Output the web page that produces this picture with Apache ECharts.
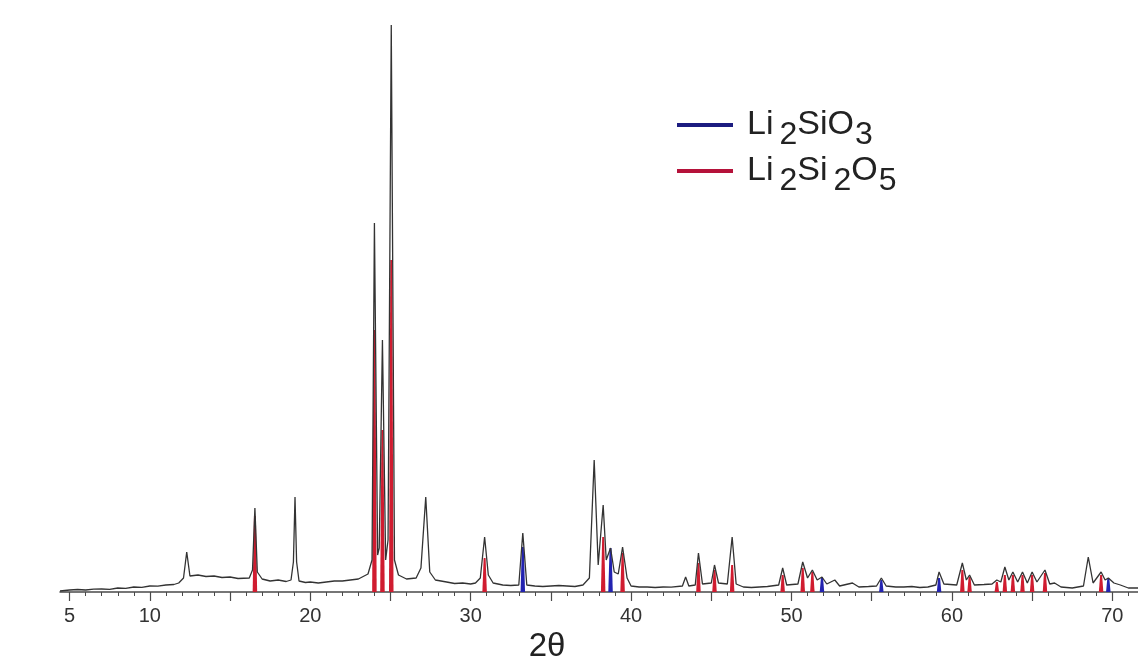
<!DOCTYPE html>
<html>
<head>
<meta charset="utf-8">
<script src="https://cdn.jsdelivr.net/npm/echarts@6/dist/echarts.min.js"></script>
<style>
html,body{margin:0;padding:0;background:#fff;}
#chart{width:1138px;height:664px;}
</style>
</head>
<body>
<div id="chart"></div>
<script>
// Measured XRD trace: [2theta, intensity (a.u.)]
const trace = [
  [4.4,10],[5.0,20],[5.5,25],[6.0,20],[6.5,28],[7.0,30],[7.5,26],[8.0,40],[8.5,36],[9.0,50],[9.5,46],
  [10.0,60],[10.5,58],[11.0,70],[11.5,75],[11.8,90],
  [12.1,140],[12.3,400],[12.5,160],[13.0,170],[13.5,155],[14.0,160],[14.5,145],[15.0,150],[15.5,135],[16.2,140],[16.4,220],
  [16.55,840],[16.7,200],[17.0,130],[17.5,110],[18.0,120],[18.5,105],[18.8,120],[18.95,300],[19.05,950],[19.15,300],[19.3,110],
  [19.7,95],[20.0,100],[20.5,90],[21.0,100],[21.5,110],[22.0,110],[22.5,120],[23.0,130],[23.6,180],[23.85,320],[24.0,3690],[24.2,370],
  [24.3,440],[24.5,2520],[24.7,320],[24.85,520],[25.05,5670],[25.25,320],[25.5,170],[26.0,130],
  [26.6,140],[26.9,240],[27.2,950],[27.45,200],[27.8,120],[28.5,100],[29.0,85],[29.5,90],[30.0,80],[30.3,90],
  [30.6,140],[30.87,550],[31.1,170],[31.4,90],[32.0,70],[32.5,65],[33.0,70],[33.25,590],[33.5,70],
  [34.0,60],[34.5,55],[35.0,60],[35.5,65],[36.0,60],[36.5,55],[37.0,70],[37.4,140],[37.7,1320],[37.95,270],[38.26,870],
  [38.45,320],[38.72,440],[38.95,200],[39.2,180],[39.47,450],[39.75,140],[40.0,60],[40.5,50],[41.0,50],[41.5,45],
  [42.0,50],[42.5,48],[43.2,60],[43.4,150],[43.6,60],[44.0,70],[44.2,390],[44.45,80],[45.0,90],
  [45.2,270],[45.45,90],[46.0,80],[46.3,550],[46.55,80],[47.0,50],[47.5,45],[48.0,50],[48.5,55],[49.2,70],
  [49.45,240],[49.7,70],[50.4,80],[50.7,300],[51.0,140],[51.3,220],[51.6,120],[51.9,150],
  [52.2,80],[52.7,120],[53.0,60],[53.8,90],[54.2,50],[54.8,55],[55.3,60],[55.6,140],[55.9,60],
  [56.5,50],[57.0,50],[57.5,55],[58.0,45],[58.5,50],[59.0,70],[59.2,200],[59.5,80],[60.3,70],[60.65,290],[60.9,120],
  [61.1,170],[61.4,70],[62.0,75],[62.5,80],[62.8,120],[63.05,100],[63.3,250],[63.55,120],[63.8,200],
  [64.1,100],[64.4,200],[64.7,90],[65.0,200],[65.3,100],[65.8,220],[66.1,80],[66.4,90],
  [66.8,50],[67.5,40],[68.2,60],[68.5,350],[68.8,90],[69.3,200],[69.55,120],[69.75,140],
  [70.1,90],[70.5,70],[71.0,40],[71.6,40]
];
// Reference phase peaks: [2theta, filled height]
const li2si2o5Peaks = [
  [16.55,760],[24.0,2620],[24.5,1620],[25.05,3320],[30.87,340],[38.26,550],[39.47,390],
  [44.2,290],[45.2,220],[46.3,270],[49.45,170],[50.7,240],[51.3,200],[60.65,220],[61.1,150],
  [62.8,100],[63.3,170],[63.8,170],[64.4,170],[65.0,170],[65.8,190],[69.3,170]
];
const li2sio3Peaks = [
  [33.25,450],[38.72,440],[51.9,150],[55.6,120],[59.2,140],[69.75,140]
];
const xLabelValues = [5,10,20,30,40,50,60,70];
const majorTicks = [5,10,15,20,25,30,35,40,45,50,55,60,65,70];
const minorTicks = [5,6,7,8,9,10,11,12,13,14,15,16,17,18,19,20,21,22,23,24,25,26,27,28,29,30,
  31,32,33,34,35,36,37,38,39,40,41,42,43,44,45,46,47,48,49,50,51,52,53,54,55,56,57,58,59,60,
  61,62,63,64,65,66,67,68,69,70,71];

const chart = echarts.init(document.getElementById('chart'), null, {renderer:'canvas'});

function peakRenderer(color) {
  return function(params, api) {
    const x = api.value(0), h = api.value(1);
    const pts = [api.coord([x-0.14,0]), api.coord([x-0.06,h]), api.coord([x+0.06,h]), api.coord([x+0.14,0])];
    return {type:'polygon', shape:{points:pts}, style:{fill:color}};
  };
}

const AX = '#4a4a4a';
const FONT = 'Liberation Sans, Arial, sans-serif';
const option = {
  animation: false,
  backgroundColor: '#ffffff',
  grid: {left: 60, right: 0, top: 20, bottom: 72},
  legend: {
    orient: 'vertical',
    left: 677, top: 99, padding: 0,
    itemWidth: 56, itemHeight: 4,
    itemGap: -6,
    icon: 'rect',
    data: [
      {name:'Li2SiO3', itemStyle:{color:'#1c1c80'}},
      {name:'Li2Si2O5', itemStyle:{color:'#b5123a'}}
    ],
    formatter: function(name) {
      return name === 'Li2SiO3'
        ? '{f|Li}{s|2}{n|SiO}{t|3}'
        : '{f|Li}{s|2}{n|Si}{s|2}{n|O}{t|5}';
    },
    textStyle: {
      rich: {
        f: {fontFamily: FONT, fontSize: 34, color:'#222', lineHeight: 30, padding:[0,0,0,9], verticalAlign:'middle'},
        n: {fontFamily: FONT, fontSize: 34, color:'#222', lineHeight: 30, verticalAlign:'middle'},
        s: {fontFamily: FONT, fontSize: 32, color:'#222', lineHeight: 30, padding:[20,0,0,6], verticalAlign:'middle'},
        t: {fontFamily: FONT, fontSize: 32, color:'#222', lineHeight: 30, padding:[20,0,0,1], verticalAlign:'middle'}
      }
    }
  },
  xAxis: [
    {
      type: 'value', min: 4.4, max: 71.6, gridIndex: 0,
      axisLine: {show: true, lineStyle: {color: AX, width: 1.5}},
      axisTick: {show: true, customValues: minorTicks, length: 4, lineStyle:{color: AX, width: 1}},
      axisLabel: {show: true, customValues: xLabelValues, fontSize: 20, color: '#333', margin: 14,
                  fontFamily: FONT},
      splitLine: {show: false}
    },
    {
      type: 'value', min: 4.4, max: 71.6, gridIndex: 0, position: 'bottom',
      axisLine: {show: false},
      axisTick: {show: true, customValues: majorTicks, length: 9, lineStyle:{color: AX, width: 1.2}},
      axisLabel: {show: false},
      splitLine: {show: false}
    }
  ],
  yAxis: {type: 'value', min: 0, max: 5720, show: false},
  graphic: [{
    type: 'text', x: 547, y: 647, z: 100,
    style: {text: '2θ', fontSize: 33, fill: '#222', align: 'center', verticalAlign: 'middle',
            fontFamily: FONT}
  }],
  series: [
    {
      name: 'Li2Si2O5', type: 'custom', color: '#b5123a',
      renderItem: peakRenderer('#d01c30'),
      encode: {x: 0, y: 1},
      data: li2si2o5Peaks, z: 2
    },
    {
      name: 'Li2SiO3', type: 'custom', color: '#1c1c80',
      renderItem: peakRenderer('#2323b0'),
      encode: {x: 0, y: 1},
      data: li2sio3Peaks, z: 2
    },
    {
      name: 'pattern', type: 'line', data: trace, showSymbol: false, symbol: 'none',
      lineStyle: {color: '#333', width: 1.3}, z: 5
    }
  ]
};
chart.setOption(option);
</script>
</body>
</html>
